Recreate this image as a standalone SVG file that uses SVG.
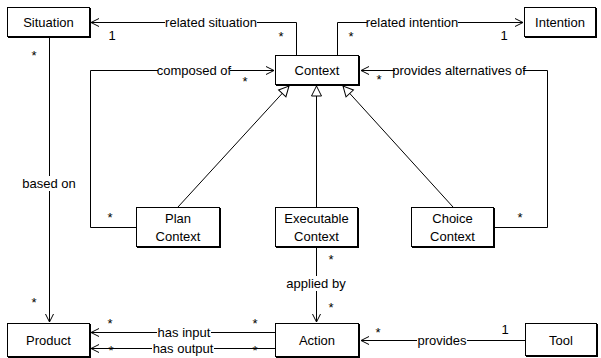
<svg xmlns="http://www.w3.org/2000/svg" width="601" height="358" viewBox="0 0 601 358">
<style>
  text { font-family: "Liberation Sans", Arial, sans-serif; font-size: 13px; fill: #000; }
  .c { text-anchor: middle; }
  .bg { fill: #fff; }
  .box { fill: #fff; stroke: #000; stroke-width: 1; }
  .sh { fill: #000; }
  .ln { fill: none; stroke: #000; stroke-width: 1; }
</style>
<defs>
  <marker id="open" markerWidth="10" markerHeight="10" refX="9" refY="5" orient="auto" markerUnits="userSpaceOnUse">
    <path d="M1,1 L9,5 L1,9" fill="none" stroke="#000" stroke-width="1"/>
  </marker>
  <marker id="tri" markerWidth="14" markerHeight="14" refX="12" refY="7" orient="auto" markerUnits="userSpaceOnUse">
    <path d="M2,2 L12,7 L2,12 Z" fill="#fff" stroke="#000" stroke-width="1"/>
  </marker>
</defs>
<rect width="601" height="358" fill="#fff"/>

<g id="connectors">
  <path class="ln" d="M296.5,55 V22.5 H91" marker-end="url(#open)"/>
  <path class="ln" d="M337.5,55 V22.5 H523" marker-end="url(#open)"/>
  <path class="ln" d="M136,227.5 H90.5 V70.5 H274" marker-end="url(#open)"/>
  <path class="ln" d="M494,227.5 H547.5 V70.5 H361" marker-end="url(#open)"/>
  <path class="ln" d="M49.5,37 V322" marker-end="url(#open)"/>
  <path class="ln" d="M316.5,247 V322" marker-end="url(#open)"/>
  <path class="ln" d="M275,332.5 H91" marker-end="url(#open)"/>
  <path class="ln" d="M275,348.5 H91" marker-end="url(#open)"/>
  <path class="ln" d="M525,340.5 H361" marker-end="url(#open)"/>
  <path class="ln" d="M178,207 L289,86" marker-end="url(#tri)"/>
  <path class="ln" d="M316.5,207 V86" marker-end="url(#tri)"/>
  <path class="ln" d="M453,207 L343,86" marker-end="url(#tri)"/>

  <rect class="bg" x="165" y="16" width="92" height="13"/>
  <text class="c" x="211" y="26.5">related situation</text>
  <rect class="bg" x="367" y="16" width="91" height="13"/>
  <text class="c" x="412" y="26.5">related intention</text>
  <rect class="bg" x="158" y="64" width="72" height="13"/>
  <text class="c" x="194" y="74.5">composed of</text>
  <rect class="bg" x="395" y="64" width="128" height="13"/>
  <text class="c" x="459" y="74.5">provides alternatives of</text>
  <rect class="bg" x="22" y="176" width="54" height="15"/>
  <text class="c" x="49" y="187.5">based on</text>
  <rect class="bg" x="285" y="276" width="63" height="15"/>
  <text class="c" x="316" y="287.5">applied by</text>
  <rect class="bg" x="157" y="326" width="54" height="12"/>
  <text class="c" x="184" y="336.5">has input</text>
  <rect class="bg" x="152" y="342" width="62" height="12"/>
  <text class="c" x="183" y="352.5">has output</text>
  <rect class="bg" x="417" y="334" width="50" height="13"/>
  <text class="c" x="442" y="344.5">provides</text>

  <text class="c" x="112" y="40">1</text>
  <text class="c" x="281" y="40.5">*</text>
  <text class="c" x="351" y="40.5">*</text>
  <text class="c" x="504" y="40">1</text>
  <text class="c" x="245" y="86">*</text>
  <text class="c" x="379" y="84">*</text>
  <text class="c" x="34" y="60">*</text>
  <text class="c" x="34" y="307">*</text>
  <text class="c" x="110" y="222">*</text>
  <text class="c" x="520" y="222">*</text>
  <text class="c" x="331" y="264">*</text>
  <text class="c" x="331" y="312">*</text>
  <text class="c" x="110" y="328">*</text>
  <text class="c" x="255" y="328">*</text>
  <text class="c" x="111" y="355">*</text>
  <text class="c" x="255" y="355">*</text>
  <text class="c" x="378" y="337">*</text>
  <text class="c" x="505" y="334">1</text>
</g>

<g id="situation">
  <rect class="sh" x="8" y="8" width="83" height="30"/>
  <rect class="box" x="7.5" y="7.5" width="82" height="29"/>
  <text class="c" x="48.5" y="26.5">Situation</text>
</g>
<g id="intention">
  <rect class="sh" x="525" y="8" width="72" height="30"/>
  <rect class="box" x="524.5" y="7.5" width="71" height="29"/>
  <text class="c" x="560" y="26.5">Intention</text>
</g>
<g id="context">
  <rect class="sh" x="276" y="56" width="84" height="30"/>
  <rect class="box" x="275.5" y="55.5" width="83" height="29"/>
  <text class="c" x="317" y="74.5">Context</text>
</g>
<g id="plan-context">
  <rect class="sh" x="137" y="208" width="84" height="40"/>
  <rect class="box" x="136.5" y="207.5" width="83" height="39"/>
  <text class="c" x="178" y="222.5">Plan</text>
  <text class="c" x="178" y="241">Context</text>
</g>
<g id="executable-context">
  <rect class="sh" x="276" y="208" width="83" height="40"/>
  <rect class="box" x="275.5" y="207.5" width="82" height="39"/>
  <text class="c" x="316.5" y="222.5">Executable</text>
  <text class="c" x="316.5" y="241">Context</text>
</g>
<g id="choice-context">
  <rect class="sh" x="412" y="208" width="83" height="40"/>
  <rect class="box" x="411.5" y="207.5" width="82" height="39"/>
  <text class="c" x="452.5" y="222.5">Choice</text>
  <text class="c" x="452.5" y="241">Context</text>
</g>
<g id="product">
  <rect class="sh" x="8" y="324" width="83" height="34"/>
  <rect class="box" x="7.5" y="323.5" width="82" height="33"/>
  <text class="c" x="48.5" y="344.5">Product</text>
</g>
<g id="action">
  <rect class="sh" x="276" y="324" width="84" height="34"/>
  <rect class="box" x="275.5" y="323.5" width="83" height="33"/>
  <text class="c" x="317" y="344.5">Action</text>
</g>
<g id="tool">
  <rect class="sh" x="526" y="324" width="72" height="33"/>
  <rect class="box" x="525.5" y="323.5" width="71" height="32"/>
  <text class="c" x="561" y="344.5">Tool</text>
</g>
</svg>
